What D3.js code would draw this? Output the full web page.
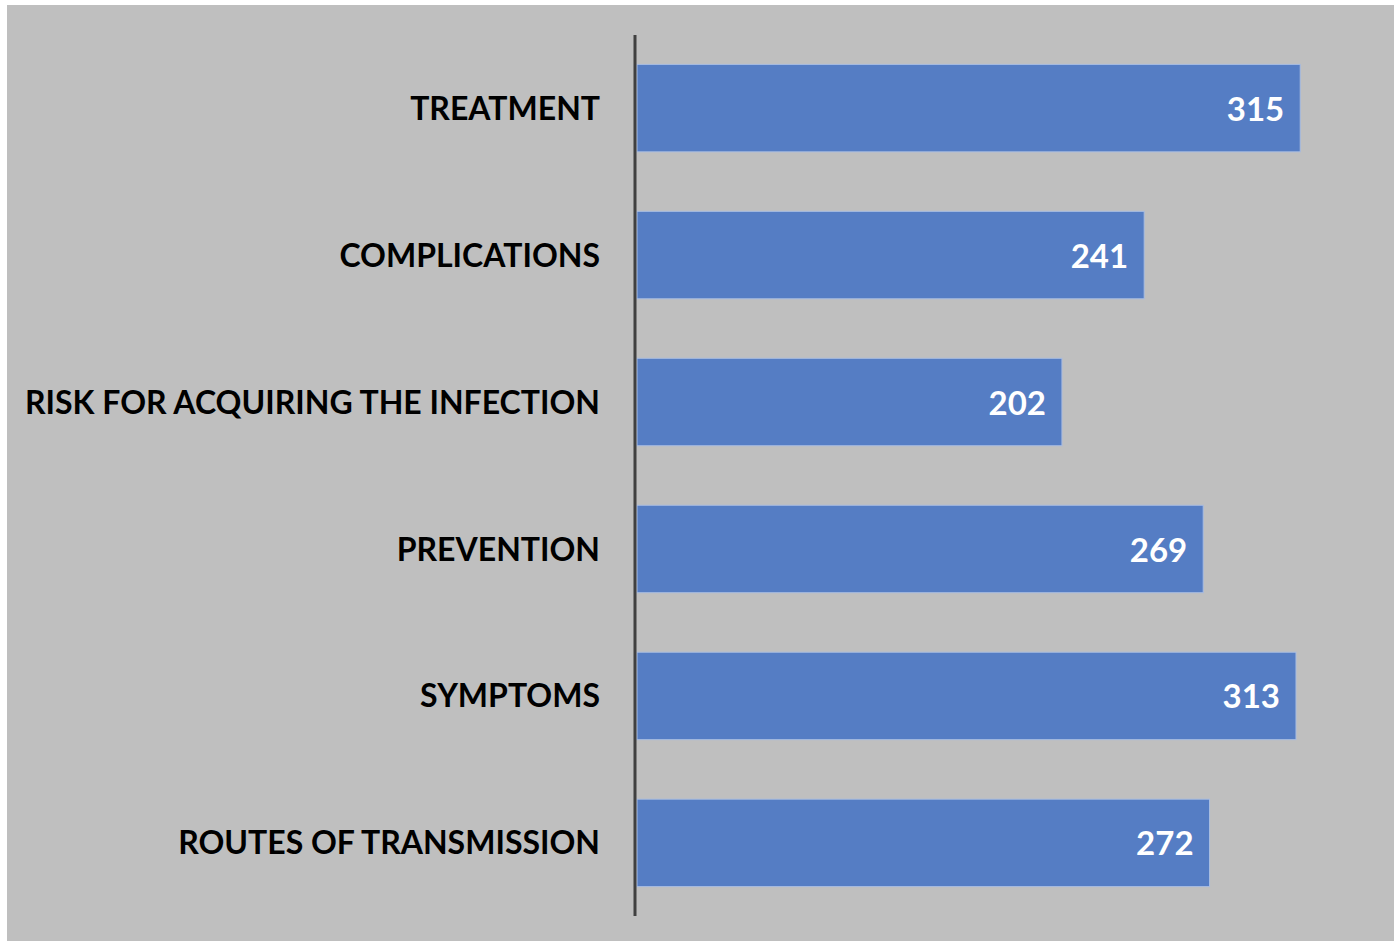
<!DOCTYPE html>
<html>
<head>
<meta charset="utf-8">
<script src="https://cdn.jsdelivr.net/npm/d3@7"></script>
<style>
  body { margin: 0; background: #fff; }
  svg { display: block; }
</style>
</head>
<body>
<svg id="chart" width="1394" height="942"></svg>
<script>
// Data
var categories = ["TREATMENT", "COMPLICATIONS", "RISK FOR ACQUIRING THE INFECTION",
                  "PREVENTION", "SYMPTOMS", "ROUTES OF TRANSMISSION"];
var counts = [315, 241, 202, 269, 313, 272];

var svg = d3.select("#chart");
var margin = {top: 35, right: 20, bottom: 26, left: 636};

// Grey plot background
svg.append("rect")
  .attr("x", 7).attr("y", 5)
  .attr("width", 1387).attr("height", 936)
  .attr("fill", "#bfbfbf");

var g = svg.append("g")
  .attr("transform", "translate(" + margin.left + "," + margin.top + ")");

var x = d3.scaleLinear().domain([0, 350]).range([0, 738]);
var y = d3.scaleBand().domain(categories).range([0, 881]).paddingInner(0.405).paddingOuter(0.2);

// bars
g.selectAll("rect.bar")
  .data(categories)
  .enter().append("rect")
    .attr("class", "bar")
    .attr("x", 1)
    .attr("y", function(d) { return y(d); })
    .attr("width", function(d, i) { return x(counts[i]) - 1; })
    .attr("height", y.bandwidth())
    .attr("fill", "#557dc4")
    .attr("stroke", "#a9bde2")
    .attr("stroke-width", 1);

// value labels
g.selectAll("text.value")
  .data(categories)
  .enter().append("text")
    .attr("class", "value")
    .attr("x", function(d, i) { return x(counts[i]) - 16; })
    .attr("y", function(d) { return y(d) + y.bandwidth() / 2; })
    .attr("dy", "0.38em")
    .attr("text-anchor", "end")
    .style("font-family", "Lato, 'Open Sans', sans-serif")
    .style("font-weight", "bold")
    .style("font-size", "33px")
    .style("fill", "#fff")
    .text(function(d, i) { return counts[i]; });

// category axis
var yAxis = g.append("g")
  .attr("class", "axis axis--y")
  .call(d3.axisLeft(y).tickSize(0).tickPadding(36));

yAxis.select(".domain")
  .attr("d", "M-1,0V881")
  .attr("stroke", "#404040")
  .attr("stroke-width", 3);

yAxis.selectAll("text")
  .attr("dy", "0.36em")
  .style("font-family", "Lato, 'Open Sans', sans-serif")
  .style("font-weight", "bold")
  .style("font-size", "32px")
  .style("fill", "#000");
</script>
</body>
</html>
